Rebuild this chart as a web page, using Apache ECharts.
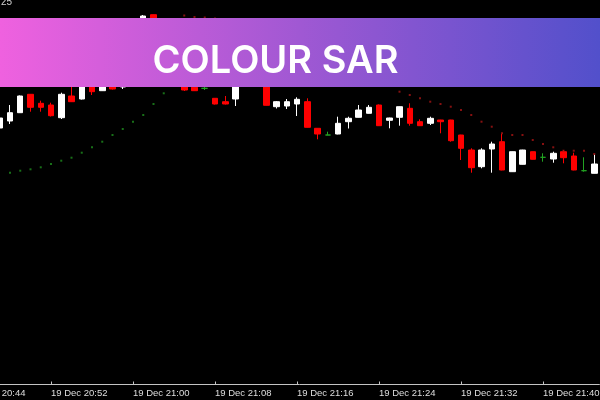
<!DOCTYPE html>
<html><head><meta charset="utf-8">
<script src="https://cdn.jsdelivr.net/npm/echarts@6/dist/echarts.min.js"></script>
<style>html,body{margin:0;padding:0;background:#000}#c{width:600px;height:400px}</style>
</head><body><div id="c"></div>
<script>
// Minute bars, 19 Dec 20:44 ... 21:45
const minutes = [
"20:44","20:45","20:46","20:47","20:48","20:49","20:50","20:51",
"20:52","20:53","20:54","20:55","20:56","20:57","20:58","20:59",
"21:00","21:01","21:02","21:03","21:04","21:05","21:06","21:07",
"21:08","21:09","21:10","21:11","21:12","21:13","21:14","21:15",
"21:16","21:17","21:18","21:19","21:20","21:21","21:22","21:23",
"21:24","21:25","21:26","21:27","21:28","21:29","21:30","21:31",
"21:32","21:33","21:34","21:35","21:36","21:37","21:38","21:39",
"21:40","21:41","21:42","21:43","21:44","21:45"];

const opens = [null,null,null,
1.2272,1.2279,1.22873,1.23057,1.22967,
1.2295,1.22823,1.2304,1.2301,1.2322,1.23093,1.233,1.2313,
1.232,1.2355,1.23853,1.236,1.234,1.2325,1.23127,1.23117,
1.23017,1.22983,1.2301,1.2328,1.2342,1.233,1.22933,1.2294,
1.2296,1.22983,1.22717,1.2265,1.2266,1.22783,1.22827,1.22867,
1.2295,1.22797,1.22827,1.22917,1.22783,1.22767,1.228,1.228,
1.2265,1.225,1.22333,1.2251,1.22583,1.22283,1.22357,1.22483,
1.22427,1.2241,1.22483,1.2244,1.22293,1.22267];

const closes = [null,null,null,
1.2282,1.22873,1.2304,1.22927,1.22927,
1.22843,1.23057,1.22983,1.2322,1.23083,1.233,1.2311,1.234,
1.236,1.2384,1.236,1.234,1.2325,1.231,1.23093,1.23117,
1.2296,1.2296,1.233,1.2345,1.233,1.22947,1.22983,1.22983,
1.23007,1.22727,1.2266,1.2265,1.22767,1.22817,1.229,1.22927,
1.22743,1.2282,1.22933,1.22767,1.22743,1.22817,1.22783,1.22593,
1.22517,1.22323,1.225,1.2256,1.223,1.22483,1.225,1.22407,
1.22427,1.22467,1.22423,1.223,1.22293,1.2236];

const lows = [null,null,null,
1.2268,1.2276,1.2287,1.22883,1.22883,
1.22835,1.2281,1.2298,1.23005,1.2305,1.2309,1.23105,1.2311,
1.2316,1.235,1.2355,1.2335,1.232,1.2309,1.2309,1.231,
1.22955,1.22955,1.2294,1.2322,1.2325,1.22945,1.22915,1.2291,
1.2284,1.22725,1.22607,1.2265,1.22657,1.22715,1.22825,1.22865,
1.2274,1.22717,1.22743,1.22743,1.2274,1.2275,1.22667,1.22583,
1.224,1.22273,1.22317,1.22273,1.22297,1.2228,1.22355,1.22405,
1.22383,1.22373,1.22367,1.22297,1.22283,1.22265];

const highs = [null,null,null,
1.2284,1.2295,1.23045,1.2306,1.22993,
1.22973,1.23073,1.232,1.2325,1.2326,1.2334,1.2335,1.2345,
1.2365,1.2385,1.23855,1.2365,1.2345,1.233,1.232,1.2316,
1.2302,1.2304,1.2335,1.235,1.2348,1.2335,1.2299,1.2301,
1.23027,1.23017,1.2272,1.22683,1.22833,1.22833,1.2295,1.2295,
1.22955,1.22823,1.22935,1.22967,1.22807,1.22833,1.22802,1.22802,
1.22652,1.22517,1.22517,1.22583,1.2266,1.22485,1.22502,1.22485,
1.22467,1.22483,1.225,1.22473,1.22427,1.22455];

// Parabolic SAR below price (uptrend) and above price (downtrend)
const sarBelow = [null,null,null,null,
1.22273,1.22293,1.22307,1.22327,
1.2236,1.22393,1.22423,1.22473,1.22527,1.22583,1.2265,1.2271,
1.22783,1.2285,1.2296,1.23067,1.232,
null,null,null,null,null,null,null,null,null,null,
null,null,null,null,null,null,null,null,null,null,
null,null,null,null,null,null,null,null,null,null,
null,null,null,null,null,null,null,null,null,null,null];

const sarAbove = [null,null,null,null,null,null,null,null,null,null,
null,null,null,null,null,null,null,null,null,null,null,
1.23845,1.2383,1.23825,1.23815,
1.238,1.2378,1.2375,1.2372,1.2368,1.2364,1.2359,1.2354,
1.2349,1.2344,1.2339,1.2334,1.2329,1.2325,1.2321,1.2317,
1.2314,1.23083,1.2305,1.23017,1.22983,1.2296,1.22933,1.229,
1.2285,1.22783,1.22733,1.22667,1.2265,1.2265,1.226,1.2256,
1.22527,1.22493,1.22493,1.22493,1.2246];

const UP = '#ffffff', DOWN = '#ff0000', DOJI = '#22a322';

const candles = minutes.map((m, i) => {
  if (opens[i] == null) return ['-', '-', '-', '-'];
  const v = [opens[i], closes[i], lows[i], highs[i]];
  if (opens[i] === closes[i]) {
    return { value: v, itemStyle: { color: DOJI, color0: DOJI, borderColor: DOJI, borderColor0: DOJI, borderColorDoji: DOJI } };
  }
  return v;
});

const chart = echarts.init(document.getElementById('c'));
chart.setOption({
  backgroundColor: '#000000',
  animation: false,
  grid: { left: -36.125, right: 0.625, top: 0, bottom: 15.5, outerBoundsMode: 'none', containLabel: false },
  xAxis: {
    type: 'category', data: minutes, boundaryGap: true,
    axisLine: { show: true, lineStyle: { color: '#c4c4c4', width: 1 } },
    axisTick: { show: true, inside: true, length: 3, interval: 7, alignWithLabel: true, lineStyle: { color: '#c4c4c4' } },
    axisLabel: { interval: 7, align: 'left', margin: 4, color: '#dedede', fontSize: 9.5, fontFamily: 'Liberation Sans',
      formatter: v => '19 Dec ' + v },
    splitLine: { show: false }
  },
  yAxis: { type: 'value', min: 1.20155, max: 1.24, show: false, splitLine: { show: false } },
  series: [
    { type: 'candlestick', data: candles, barWidth: 6,
      itemStyle: { color: UP, color0: DOWN, borderColor: UP, borderColor0: DOWN, borderColorDoji: DOJI, borderWidth: 1 } },
    { type: 'scatter', data: sarBelow, symbol: 'rect', symbolSize: 2, itemStyle: { color: '#1e8c1e' } },
    { type: 'scatter', data: sarAbove, symbol: 'rect', symbolSize: 2, itemStyle: { color: '#a81414' } }
  ],
  graphic: [
    { type: 'rect', z: 100, shape: { x: 0, y: 18, width: 600, height: 69 },
      style: { fill: new echarts.graphic.LinearGradient(0, 0, 1, 0, [
        { offset: 0, color: '#ef61df' }, { offset: 0.5, color: '#a058d3' }, { offset: 1, color: '#5250cb' }]) } },
    { type: 'text', z: 101, x: 275.5, y: 62,
      style: { text: 'COLOUR SAR', fill: '#ffffff', fontSize: 38, fontWeight: 600, fontFamily: 'Inter', align: 'center', verticalAlign: 'middle' } },
    { type: 'text', z: 101, x: 1, y: 7,
      style: { text: '25', fill: '#d0d0d0', fontSize: 10, fontFamily: 'Liberation Sans', align: 'left', verticalAlign: 'bottom' } }
  ]
});
</script>
</body></html>
